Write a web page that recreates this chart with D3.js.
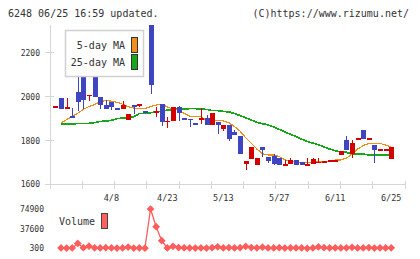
<!DOCTYPE html>
<html>
<head>
<meta charset="utf-8">
<script src="https://d3js.org/d3.v7.min.js"></script>
<style>
body { margin: 0; background: #fff; }
text { font-family: "DejaVu Sans Mono", monospace; fill: #333; }
</style>
</head>
<body>
<script>
var code = "6248", updated = "06/25 16:59";

// daily candles (first one is only partly shown, no volume for it)
var open = [1954,1992,1950,1913,2020,2112,2005,2103,2000,1964,
            1978,1950,1943,1895,1960,1962,1935,2360,1925,1969,
            1889,1890,1954,1904,1900,1881,1895,1904,1872,1886,
            1854,1872,1838,1822,1694,1717,1687,1771,1723,1730,
            1720,1690,1692,1711,1702,1689,1695,1700,1696,1709,
            1709,1736,1802,1738,1808,1848,1802,1779,1759,1759,
            1715];
var high = [1956,1992,1992,1947,2100,2112,2009,2105,2000,1985,
            1978,1950,1982,1922,1960,1966,1935,2360,1955,1969,
            1908,1954,1958,1904,1900,1881,1950,1916,1926,1886,
            1872,1872,1848,1822,1708,1771,1720,1771,1723,1737,
            1720,1712,1720,1711,1702,1720,1720,1720,1708,1711,
            1711,1754,1820,1802,1810,1848,1811,1779,1761,1761,
            1771];
var low  = [1954,1946,1950,1904,1933,1946,1980,1998,1946,1943,
            1941,1941,1943,1893,1919,1955,1925,2012,1908,1867,
            1855,1890,1890,1895,1863,1872,1875,1872,1872,1832,
            1845,1799,1823,1740,1665,1717,1687,1723,1699,1689,
            1689,1688,1692,1689,1689,1688,1695,1700,1696,1709,
            1709,1736,1756,1719,1808,1808,1802,1699,1759,1759,
            1715];
var close = [1956,1946,1951,1904,1975,1985,2009,2000,1960,1943,
             1955,1941,1964,1919,1951,1966,1925,2053,1935,1883,
             1891,1954,1924,1895,1896,1872,1904,1872,1926,1872,
             1872,1807,1823,1740,1708,1771,1720,1756,1708,1694,
             1689,1692,1711,1689,1689,1692,1715,1702,1708,1711,
             1711,1754,1756,1790,1810,1808,1811,1756,1761,1761,
             1771];
var ma5 = [null,1880,1895,1911,1925,1943,1955,1964,1978,1982,
           1980,1975,1966,1955,1948,1946,1946,1955,1962,1966,
           1954,1943,1939,1924,1911,1911,1911,1890,1890,1890,
           1890,1881,1864,1843,1813,1788,1761,1740,1734,1734,
           1727,1711,1709,1702,1699,1699,1702,1702,1702,1706,
           1711,1711,1720,1738,1761,1777,1787,1787,1787,1779,
           1771];
var ma25 = [null,1874,1874,1875,1878,1878,1878,1882,1887,1889,
            1892,1900,1902,1905,1909,1923,1924,1927,1931,1934,
            1939,1942,1943,1943,1946,1946,1943,1942,1937,1937,
            1933,1931,1923,1914,1904,1894,1883,1877,1871,1862,
            1851,1839,1828,1818,1806,1796,1788,1781,1771,1761,
            1754,1747,1746,1738,1738,1738,1734,1734,1734,1734,
            1734];
var volume = [null,1000,800,900,9500,1500,4200,1300,1100,1400,
              1000,700,900,2600,800,900,600,74900,41300,14700,
              900,4000,1800,1300,900,800,1000,700,1500,3200,
              1100,1600,1000,1400,3800,1700,1300,2400,1000,900,
              1500,800,1300,900,1100,300,1000,2800,1500,900,
              1200,1000,1300,2200,900,1000,1600,800,1200,1000,
              1300];

var dateLabels = ["4/8", "4/23", "5/13", "5/27", "6/11", "6/25"]; // every 10th day back from the last
var priceTicks = [1600, 1800, 2000, 2200];
var volTicks = [300, 37600, 74900];

var width = 420, height = 259;
var n = close.length;
var up = "#d40000", down = "#3f45c0";

var x = d3.scaleLinear().domain([0, n - 1]).range([55.4, 391.2]);
var y = d3.scaleLinear().domain([1600, 2330]).range([184.3, 24.5]);
var yv = d3.scaleLinear().domain([300, 74900]).range([248.3, 209]);
var grid = d3.scaleLinear().domain([0, 11]).range([50, 405]);

var svg = d3.select("body").append("svg")
    .attr("width", width)
    .attr("height", height);

svg.append("text").attr("x", 8).attr("y", 16.5).style("font-size", "10px")
    .text(code + " " + updated + " updated.");
svg.append("text").attr("x", 409).attr("y", 16.5).attr("text-anchor", "end").style("font-size", "10px")
    .text("(C)https://www.rizumu.net/");

svg.append("clipPath").attr("id", "plot")
  .append("rect").attr("x", 50).attr("y", 25).attr("width", 356).attr("height", 160);

// axes
var ax = svg.append("g").attr("stroke", "#d6d6d6").attr("stroke-width", 1).attr("shape-rendering", "crispEdges");
ax.append("line").attr("x1", 50).attr("x2", 50).attr("y1", y(2330)).attr("y2", y(1600));
ax.append("line").attr("x1", 50).attr("x2", 405).attr("y1", y(1600)).attr("y2", y(1600));
ax.selectAll(".yt").data(priceTicks).enter().append("line")
    .attr("x1", 45).attr("x2", 54).attr("y1", y).attr("y2", y);
ax.selectAll(".xt").data(grid.ticks(11)).enter().append("line")
    .attr("x1", grid).attr("x2", grid).attr("y1", 181).attr("y2", 189);

svg.selectAll(".ylab").data(priceTicks).enter().append("text")
    .attr("x", 40).attr("y", function(d) { return y(d) + 3; })
    .attr("text-anchor", "end").style("font-size", "8px")
    .text(function(d) { return d; });

svg.selectAll(".xlab").data(dateLabels).enter().append("text")
    .attr("x", function(d, i) { return x(n - 1 - 10 * (dateLabels.length - 1 - i)); })
    .attr("y", 201).attr("text-anchor", "middle").style("font-size", "8.5px")
    .text(function(d) { return d; });

var plot = svg.append("g").attr("clip-path", "url(#plot)");

var line = function(arr) {
  return d3.line()
    .defined(function(d) { return d != null; })
    .x(function(d, i) { return x(i); })
    .y(function(d) { return y(d); })(arr);
};
plot.append("path").attr("d", line(ma25)).attr("fill", "none")
    .attr("stroke", "#16a818").attr("stroke-width", 1.7).attr("shape-rendering", "crispEdges");
plot.append("path").attr("d", line(ma5)).attr("fill", "none")
    .attr("stroke", "#f0901c").attr("stroke-width", 1.2).attr("shape-rendering", "crispEdges");

var idx = d3.range(n);
var col = function(i) { return close[i] >= open[i] ? up : down; };
var c = plot.selectAll(".c").data(idx).enter().append("g").attr("shape-rendering", "crispEdges");
c.append("line")
    .attr("x1", function(i) { return Math.round(x(i)) + 0.5; })
    .attr("x2", function(i) { return Math.round(x(i)) + 0.5; })
    .attr("y1", function(i) { return y(high[i]); })
    .attr("y2", function(i) { return y(low[i]); })
    .attr("stroke", col).attr("stroke-width", 1);
c.append("rect")
    .attr("x", function(i) { return Math.round(x(i)) - 2; })
    .attr("width", 5)
    .attr("y", function(i) { return y(Math.max(open[i], close[i])); })
    .attr("height", function(i) { return Math.max(1.5, Math.abs(y(open[i]) - y(close[i]))); })
    .attr("fill", col);

// legend
var lg = svg.append("g");
lg.append("rect").attr("x", 65.5).attr("y", 30.5).attr("width", 78).attr("height", 46)
    .attr("fill", "#fff").attr("stroke", "#d0d0d0").attr("stroke-width", 1.5);
lg.append("text").attr("x", 125).attr("y", 49).attr("text-anchor", "end").style("font-size", "10px").text("5-day MA");
lg.append("text").attr("x", 125).attr("y", 66).attr("text-anchor", "end").style("font-size", "10px").text("25-day MA");
lg.append("rect").attr("x", 131.5).attr("y", 37.5).attr("width", 6).attr("height", 15)
    .attr("fill", "#f0901c").attr("stroke", "#333");
lg.append("rect").attr("x", 131.5).attr("y", 54.5).attr("width", 6).attr("height", 15)
    .attr("fill", "#16a818").attr("stroke", "#333");

// volume
svg.selectAll(".vlab").data(volTicks).enter().append("text")
    .attr("x", 44).attr("y", function(d) { return yv(d) + 3; })
    .attr("text-anchor", "end").style("font-size", "8px")
    .text(function(d) { return d; });

svg.append("path")
    .attr("d", d3.line()
      .defined(function(d) { return d != null; })
      .x(function(d, i) { return x(i); })
      .y(function(d) { return yv(d); })(volume))
    .attr("fill", "none").attr("stroke", "#ff5c5c").attr("stroke-width", 1.3);

svg.selectAll(".vd").data(idx.filter(function(i) { return volume[i] != null; })).enter().append("path")
    .attr("d", d3.symbol(d3.symbolSquare, 30))
    .attr("transform", function(i) { return "translate(" + x(i) + "," + yv(volume[i]) + ") rotate(45)"; })
    .attr("fill", "#ff5c5c");

svg.append("text").attr("x", 59).attr("y", 225).style("font-size", "10px").text("Volume");
svg.append("rect").attr("x", 101.5).attr("y", 213.5).attr("width", 6).attr("height", 15)
    .attr("fill", "#ff6060").attr("stroke", "#444");
</script>
</body>
</html>
